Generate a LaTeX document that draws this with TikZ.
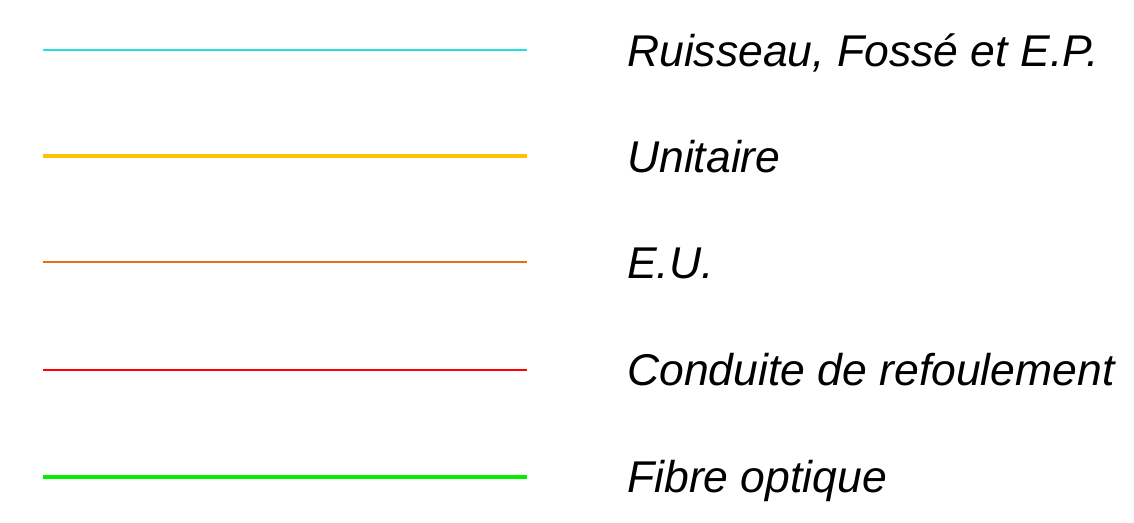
\documentclass[tikz,border=0pt]{standalone}
\usepackage{fontspec}
\setmainfont{Liberation Sans}
\definecolor{ccyan}{HTML}{20E0E0}
\definecolor{cyellow}{HTML}{FFC000}
\definecolor{corange}{HTML}{E07010}
\definecolor{cred}{HTML}{FF0000}
\definecolor{cgreen}{HTML}{00F000}
\begin{document}
\begin{tikzpicture}[x=1pt,y=-1pt,
  lbl/.style={anchor=base west,inner sep=0pt,font=\fontsize{44.5}{50}\selectfont\itshape}]
\useasboundingbox[fill=white] (0,0) rectangle (1134,522);
\foreach \n/\y in {a/50,b/156,c/262,d/370,e/477}{
  \coordinate (\n1) at (43,\y);
  \coordinate (\n2) at (527,\y);
}
\draw[ccyan,line width=1.5pt] (a1) -- (a2);
\draw[cyellow,line width=3.5pt] (b1) -- (b2);
\draw[corange,line width=1.6pt] (c1) -- (c2);
\draw[cred,line width=2.2pt] (d1) -- (d2);
\draw[cgreen,line width=3.5pt] (e1) -- (e2);
\node[lbl] (ta) at (627,66) {Ruisseau, Fossé et E.P.};
\node[lbl] (tb) at (627,172) {Unitaire};
\node[lbl] (tc) at (627,278) {E.U.};
\node[lbl] (td) at (627,385) {Conduite de refoulement};
\node[lbl] (te) at (627,492) {Fibre optique};
\end{tikzpicture}
\end{document}
